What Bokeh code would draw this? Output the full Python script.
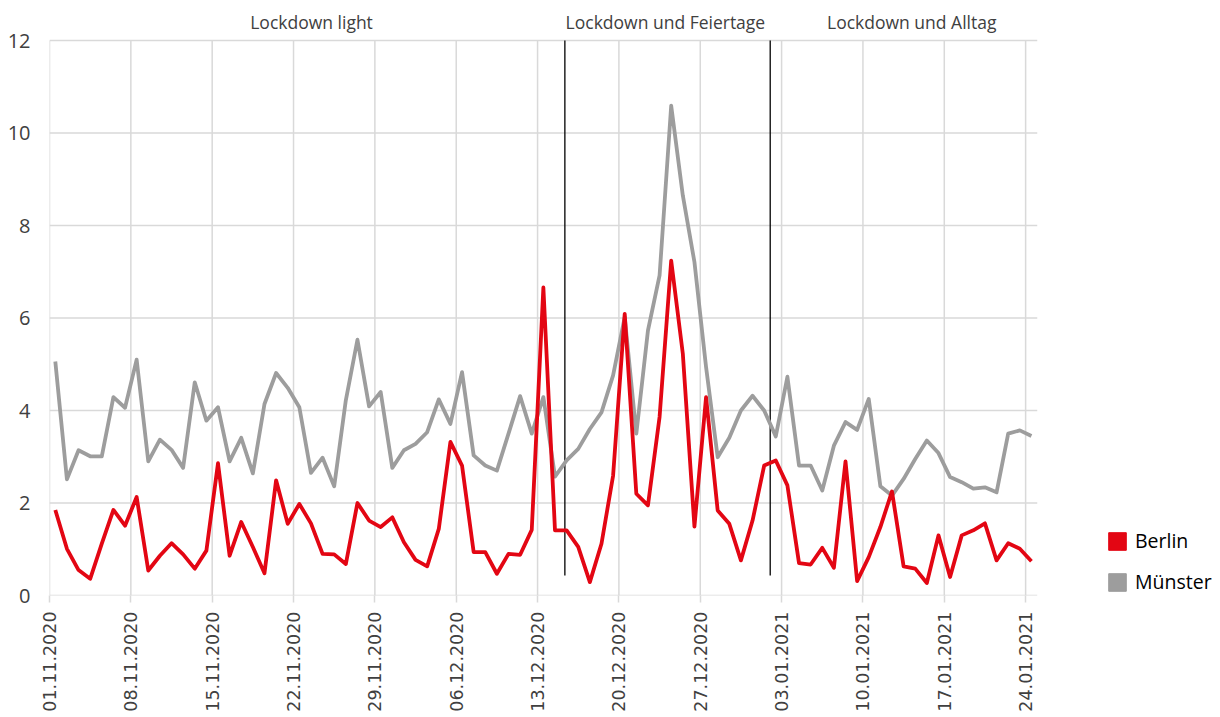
import numpy as np
from bokeh.plotting import figure
from bokeh.models import (Range1d, FixedTicker, Label, Legend, LegendItem,
                          ColumnDataSource)
from bokeh.embed import file_html
from bokeh.resources import INLINE

# ---------------- data ----------------
tick_days = [0, 7, 14, 21, 28, 35, 42, 49, 56, 63, 70, 77, 84]
tick_labels = ["01.11.2020", "08.11.2020", "15.11.2020", "22.11.2020",
               "29.11.2020", "06.12.2020", "13.12.2020", "20.12.2020",
               "27.12.2020", "03.01.2021", "10.01.2021", "17.01.2021",
               "24.01.2021"]

berlin = [1.85, 1.01, 0.55, 0.36, 1.12, 1.85, 1.51, 2.13, 0.54, 0.86,
          1.13, 0.89, 0.58, 0.97, 2.86, 0.86, 1.59, 1.05, 0.48, 2.49,
          1.55, 1.98, 1.56, 0.90, 0.89, 0.68, 2.00, 1.62, 1.48, 1.69,
          1.15, 0.77, 0.63, 1.44, 3.32, 2.81, 0.94, 0.94, 0.47, 0.90,
          0.88, 1.42, 6.66, 1.41, 1.41, 1.05, 0.29, 1.12, 2.59, 6.09,
          2.20, 1.95, 3.86, 7.24, 5.23, 1.49, 4.29, 1.84, 1.55, 0.76,
          1.62, 2.81, 2.92, 2.38, 0.70, 0.67, 1.03, 0.60, 2.90, 0.31,
          0.83, 1.48, 2.25, 0.63, 0.58, 0.27, 1.30, 0.40, 1.30, 1.41,
          1.56, 0.76, 1.13, 1.01, 0.74]

muenster = [5.06, 2.51, 3.14, 3.01, 3.01, 4.29, 4.06, 5.10, 2.90, 3.37,
            3.15, 2.76, 4.61, 3.78, 4.07, 2.90, 3.41, 2.64, 4.14, 4.81,
            4.49, 4.07, 2.65, 2.98, 2.36, 4.22, 5.53, 4.09, 4.40, 2.76,
            3.14, 3.28, 3.53, 4.24, 3.71, 4.83, 3.03, 2.81, 2.70, 3.50,
            4.31, 3.50, 4.29, 2.57, 2.92, 3.17, 3.60, 3.96, 4.76, 6.02,
            3.50, 5.73, 6.92, 10.59, 8.65, 7.21, 4.94, 2.99, 3.41, 4.00,
            4.32, 4.00, 3.44, 4.73, 2.81, 2.81, 2.27, 3.24, 3.75, 3.58,
            4.25, 2.36, 2.16, 2.52, 2.95, 3.35, 3.08, 2.56, 2.45, 2.31,
            2.34, 2.23, 3.50, 3.57, 3.45]

phase_names = ["Lockdown light", "Lockdown und Feiertage", "Lockdown und Alltag"]
phase_label_pos = [22.55, 53.0, 74.2]
phase_bounds = [44.35, 62.02]
y_ticks = [0, 2, 4, 6, 8, 10, 12]
x_end = 85      # right end of the plotted area (days)
y_max = 12      # top of the value axis

# ---------------- styling ----------------
RED = "#e30613"
GRAY = "#9d9d9d"
GRID = "#d9d9d9"
TXT = "#404040"

x = np.arange(len(berlin)) + 0.5

p = figure(width=1220, height=717, output_backend="svg", toolbar_location=None,
           x_range=Range1d(0, 100.77), y_range=Range1d(0, 12.865),
           min_border_left=49, min_border_right=0,
           min_border_top=0, min_border_bottom=122)
p.outline_line_color = None
p.background_fill_color = "white"
p.xgrid.visible = False
p.ygrid.visible = False

# axes
p.xaxis.ticker = FixedTicker(ticks=tick_days)
p.xaxis.major_label_overrides = {d: l for d, l in zip(tick_days, tick_labels)}
p.xaxis.major_label_orientation = np.pi / 2
p.xaxis.major_label_text_font = "DejaVu Sans"
p.xaxis.major_label_text_font_size = "17.5px"
p.xaxis.major_label_text_color = TXT
p.xaxis.major_label_standoff = 9
p.xaxis.axis_line_color = None
p.xaxis.major_tick_line_color = GRID
p.xaxis.major_tick_line_width = 1.5
p.xaxis.major_tick_out = 7
p.xaxis.major_tick_in = 0
p.xaxis.minor_tick_line_color = None

p.yaxis.ticker = FixedTicker(ticks=y_ticks)
p.yaxis.axis_line_color = None
p.yaxis.major_tick_line_color = None
p.yaxis.major_tick_out = 0
p.yaxis.major_tick_in = 0
p.yaxis.minor_tick_line_color = None
p.yaxis.major_label_text_font = "Open Sans"
p.yaxis.major_label_text_font_size = "20px"
p.yaxis.major_label_text_color = TXT
p.yaxis.major_label_standoff = 19

# grid lines, limited to the plotting area
p.segment(x0=tick_days, x1=tick_days, y0=[0] * len(tick_days),
          y1=[y_max] * len(tick_days), line_color=GRID, line_width=1.5)
p.segment(x0=[0] * len(y_ticks), x1=[x_end] * len(y_ticks), y0=y_ticks,
          y1=y_ticks, line_color=GRID, line_width=1.5)

# phase separators
p.segment(x0=phase_bounds, x1=phase_bounds, y0=[0.43] * len(phase_bounds),
          y1=[y_max] * len(phase_bounds), line_color="black", line_width=1.3)

# series
p.line(x, muenster, line_color=GRAY, line_width=3.8, line_join="round")
p.line(x, berlin, line_color=RED, line_width=3.8, line_join="round")

# phase labels
for name, pos in zip(phase_names, phase_label_pos):
    p.add_layout(Label(x=pos, y=12.41, text=name, text_align="center",
                       text_baseline="middle", text_font="Open Sans",
                       text_font_size="17.5px", text_color=TXT))

# legend with square swatches (renderers carry no visible data)
nan_box = dict(left=[np.nan], right=[np.nan], top=[np.nan], bottom=[np.nan])
r_b = p.quad(source=ColumnDataSource(nan_box), left="left", right="right",
             top="top", bottom="bottom", fill_color=RED, line_color=RED)
r_m = p.quad(source=ColumnDataSource(dict(nan_box)), left="left", right="right",
             top="top", bottom="bottom", fill_color=GRAY, line_color=GRAY)
legend = Legend(items=[LegendItem(label="Berlin", renderers=[r_b]),
                       LegendItem(label="Münster", renderers=[r_m])],
                location=(1057, 0), glyph_width=22, glyph_height=22,
                label_height=22, spacing=14, padding=0, margin=0,
                label_standoff=7, label_text_font="Open Sans",
                label_text_font_size="19.5px", label_text_color="black",
                border_line_color=None, background_fill_alpha=0)
p.add_layout(legend)

open("out.html", "w").write(file_html(p, INLINE))
